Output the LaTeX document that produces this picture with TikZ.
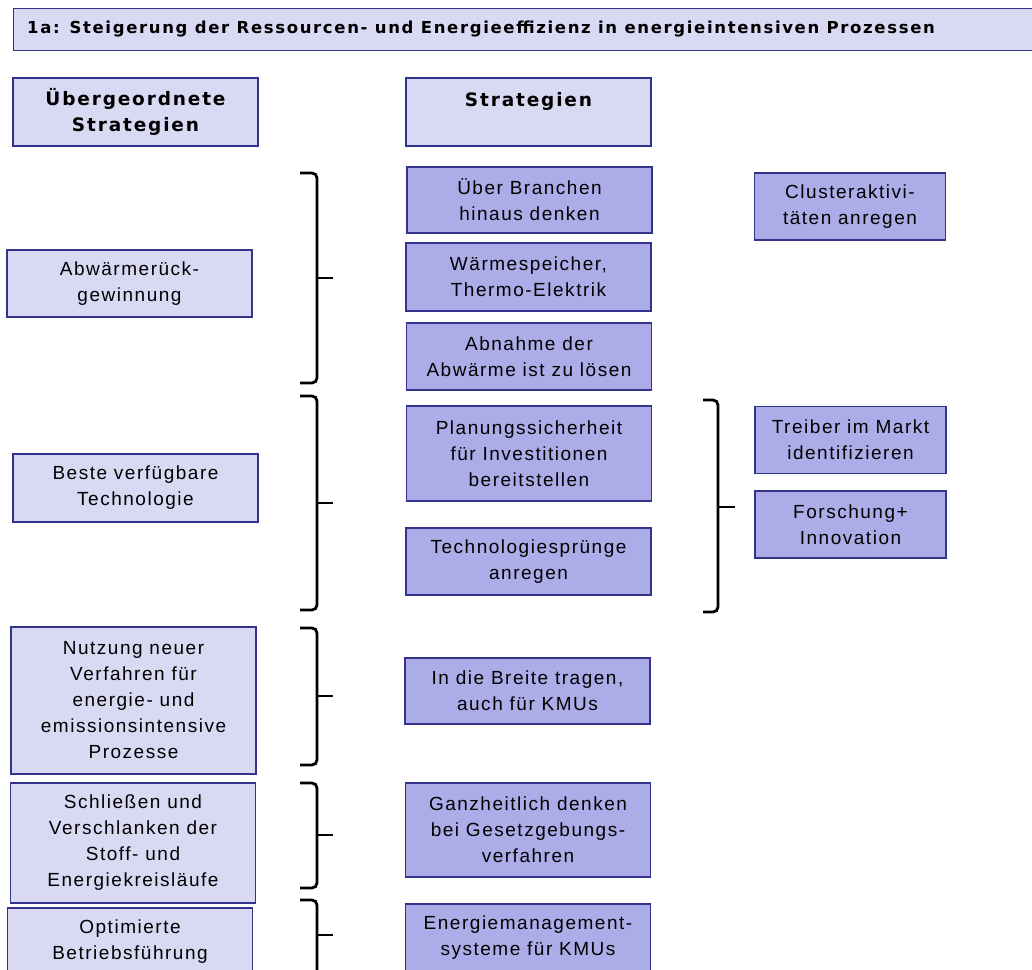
\documentclass[tikz,border=0pt]{standalone}
\usepackage{fontspec}
\setmainfont{Liberation Sans}[LetterSpace=8]
\newfontfamily\headfont{DejaVu Sans}[LetterSpace=10]
\newfontfamily\titelfont{DejaVu Sans}[LetterSpace=10]
\usepackage{tikz}
\usetikzlibrary{positioning}

\definecolor{hell}{RGB}{217,217,244}
\definecolor{dunkel}{RGB}{172,172,232}
\definecolor{rand}{RGB}{51,51,140}

\begin{document}
\begin{tikzpicture}[x=1pt,y=-1pt,
    box/.style={draw=rand,line width=1.3pt,inner sep=0pt,align=center,
        font=\fontsize{19}{26}\selectfont},
    obere/.style={box,fill=hell},
    untere/.style={box,fill=dunkel},
    kopf/.style={obere,font=\headfont\bfseries\fontsize{18.5}{26}\selectfont},
    klammer/.style={draw=black,line width=2.8pt,rounded corners=5pt}]
            \clip (0,0) rectangle (1032,969);
            \fill[white] (0,0) rectangle (1032,969);

            % titel und kopfzeile
            \node[obere,minimum width=1027pt,minimum height=42pt,anchor=north west] (titel) at (13,8) {};
            \node[anchor=west,inner sep=0pt,font=\titelfont\bfseries\fontsize{16.5}{20}\selectfont]
                (titeltext) at (27,29) {1a: Steigerung der Ressourcen- und Energieeffizienz in energieintensiven Prozessen};
            \node[kopf,minimum width=245pt,minimum height=68pt] (oberkopf) at (135.5,112) {Übergeordnete\\Strategien};
            \node[kopf,minimum width=245pt,minimum height=68pt] (stratkopf) at (528.5,112) {Strategien\\\mbox{}};

            % uebergeordnete strategien
            \begin{scope}[every node/.style={obere,minimum width=245pt}]
                \node[minimum height=67pt] (abw) at (129.5,283.5) {Abwärmerück-\\gewinnung};
                \node[minimum height=68pt] (beste) at (135.5,488) {Beste verfügbare\\Technologie};
                \node[minimum height=147pt] (nutz) at (133.5,700.5) {Nutzung neuer\\Verfahren für\\energie- und\\emissionsintensive\\Prozesse};
                \node[minimum height=120pt] (kreis) at (133,843) {Schließen und\\Verschlanken der\\Stoff- und\\Energiekreisläufe};
                \node[minimum height=68pt] (betrieb) at (130,942) {Optimierte\\Betriebsführung};
            \end{scope}

            % strategien
            \begin{scope}[every node/.style={untere,minimum width=245pt}]
                \node[minimum height=66pt] (branchen) at (529.5,200) {Über Branchen\\hinaus denken};
                \node[minimum height=68pt] (speicher) at (528.5,277) {Wärmespeicher,\\Thermo-Elektrik};
                \node[minimum height=67pt] (abnahme) at (529,356.5) {Abnahme der\\Abwärme ist zu lösen};
                \node[minimum height=95pt] (planung) at (529,453.5) {Planungssicherheit\\für Investitionen\\bereitstellen};
                \node[minimum height=67pt] (sprung) at (528.5,561.5) {Technologiesprünge\\anregen};
                \node[minimum height=66pt] (breite) at (527.5,691) {In die Breite tragen,\\auch für KMUs};
                \node[minimum height=94pt] (ganz) at (528,830) {Ganzheitlich denken\\bei Gesetzgebungs-\\verfahren};
                \node[minimum height=68pt] (ems) at (528,938) {Energiemanagement-\\systeme für KMUs};
            \end{scope}

            % rechte spalte
            \begin{scope}[every node/.style={untere,minimum width=191pt,minimum height=67pt}]
                \node (cluster) at (850,206.5) {Clusteraktivi-\\täten anregen};
                \node (treiber) at (850.5,440) {Treiber im Markt\\identifizieren};
                \node (forsch) at (850.5,524.5) {Forschung+\\Innovation};
            \end{scope}

            % klammern
            \begin{scope}
                \draw[klammer] (300,173) -| (317,383) -- (300,383);
                \draw[klammer] (300,396) -| (317,610) -- (300,610);
                \draw[klammer] (300,628) -| (317,765) -- (300,765);
                \draw[klammer] (300,783) -| (317,888) -- (300,888);
                \draw[klammer] (300,900) -| (317,1010) -- (300,1010);
                \draw[klammer] (703,400) -| (718,612) -- (703,612);
                \draw[line width=2.8pt] (317,278) -- (333,278);
                \draw[line width=2.8pt] (317,503) -- (333,503);
                \draw[line width=2.8pt] (317,696) -- (333,696);
                \draw[line width=2.8pt] (317,835) -- (333,835);
                \draw[line width=2.8pt] (317,935) -- (333,935);
                \draw[line width=2.8pt] (718,507) -- (735,507);
            \end{scope}
            \end{tikzpicture}
\end{document}
